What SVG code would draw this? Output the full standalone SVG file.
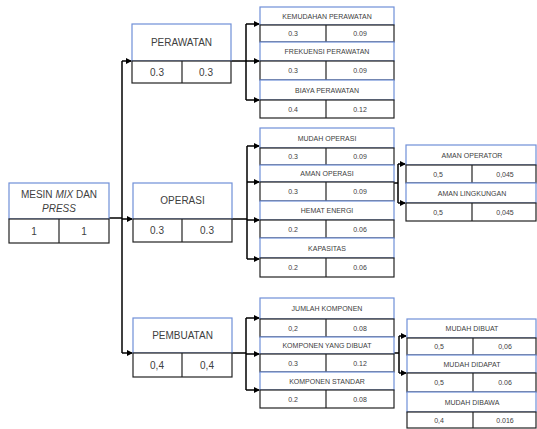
<svg xmlns="http://www.w3.org/2000/svg" width="537" height="429" viewBox="0 0 537 429">
<style>
text{font-family:"Liberation Sans",Arial,sans-serif;fill:#404040;text-anchor:middle}
.h{fill:#fff;stroke:#6f8fd8;stroke-width:1.2}
.v{fill:#fff;stroke:#222;stroke-width:1.2}
.d{stroke:#222;stroke-width:1.2}
.s{font-size:7px}
.b{font-size:10px}
.c{fill:none;stroke:#000;stroke-width:1.5}
</style>
<defs>
<marker id="a" markerWidth="6" markerHeight="6" refX="5" refY="3" orient="auto" markerUnits="userSpaceOnUse">
<path d="M0,0 L6,3 L0,6 Z" fill="#000"/>
</marker>
</defs>
<g id="connectors">
<path class="c" d="M109,218 H122"/>
<path class="c" d="M122,61 V353"/>
<path class="c" d="M122,61 H131" marker-end="url(#a)"/>
<path class="c" d="M122,219 H132" marker-end="url(#a)"/>
<path class="c" d="M122,353 H132" marker-end="url(#a)"/>
<path class="c" d="M231,61 H246 M246,24 V100"/>
<path class="c" d="M246,24 H259" marker-end="url(#a)"/>
<path class="c" d="M246,61 H259" marker-end="url(#a)"/>
<path class="c" d="M246,100 H259" marker-end="url(#a)"/>
<path class="c" d="M232,219 H247 M247,146 V259"/>
<path class="c" d="M247,146 H259" marker-end="url(#a)"/>
<path class="c" d="M247,182 H259" marker-end="url(#a)"/>
<path class="c" d="M247,220 H259" marker-end="url(#a)"/>
<path class="c" d="M247,259 H259" marker-end="url(#a)"/>
<path class="c" d="M232,353 H246 M246,318 V390"/>
<path class="c" d="M246,318 H259" marker-end="url(#a)"/>
<path class="c" d="M246,354 H259" marker-end="url(#a)"/>
<path class="c" d="M246,390 H259" marker-end="url(#a)"/>
<path class="c" d="M394,183 H398 M398,164 V203"/>
<path class="c" d="M398,164 H405" marker-end="url(#a)"/>
<path class="c" d="M398,203 H405" marker-end="url(#a)"/>
<path class="c" d="M394,353 H399 M399,336 V373"/>
<path class="c" d="M399,336 H406" marker-end="url(#a)"/>
<path class="c" d="M399,373 H406" marker-end="url(#a)"/>
</g>
<g id="main">
<rect class="h" x="9" y="183" width="100" height="36"/>
<rect class="v" x="9" y="219" width="100" height="24"/>
<line class="d" x1="59" y1="219" x2="59" y2="243"/>
<text class="b" x="59" y="198">MESIN <tspan font-style="italic">MIX</tspan> DAN</text>
<text class="b" x="59" y="212" font-style="italic">PRESS</text>
<text class="b" x="34" y="235">1</text>
<text class="b" x="84" y="235">1</text>
</g>
<g id="perawatan">
<rect class="h" x="132" y="24" width="99" height="37"/>
<rect class="v" x="132" y="61" width="99" height="22"/>
<line class="d" x1="182" y1="61" x2="182" y2="83"/>
<text class="b" x="181.5" y="46">PERAWATAN</text>
<text class="b" x="157" y="76">0.3</text>
<text class="b" x="206" y="76">0.3</text>
</g>
<g id="operasi">
<rect class="h" x="133" y="183" width="99" height="36"/>
<rect class="v" x="133" y="219" width="99" height="23"/>
<line class="d" x1="182" y1="219" x2="182" y2="242"/>
<text class="b" x="182.5" y="204">OPERASI</text>
<text class="b" x="157" y="234">0.3</text>
<text class="b" x="207" y="234">0.3</text>
</g>
<g id="pembuatan">
<rect class="h" x="133" y="318" width="99" height="35"/>
<rect class="v" x="133" y="353" width="99" height="24"/>
<line class="d" x1="182" y1="353" x2="182" y2="377"/>
<text class="b" x="182.5" y="339">PEMBUATAN</text>
<text class="b" x="157" y="369">0,4</text>
<text class="b" x="207" y="369">0,4</text>
</g>
<g id="kemudahan">
<rect class="h" x="260" y="7" width="134" height="18"/>
<rect class="v" x="260" y="25" width="134" height="17"/>
<line class="d" x1="326" y1="25" x2="326" y2="42"/>
<text class="s" x="327" y="19">KEMUDAHAN PERAWATAN</text>
<text class="s" x="293" y="36">0.3</text>
<text class="s" x="360" y="36">0.09</text>
</g>
<g id="frekuensi">
<rect class="h" x="260" y="42" width="134" height="19"/>
<rect class="v" x="260" y="61" width="134" height="19"/>
<line class="d" x1="326" y1="61" x2="326" y2="80"/>
<text class="s" x="327" y="54">FREKUENSI PERAWATAN</text>
<text class="s" x="293" y="73">0.3</text>
<text class="s" x="360" y="73">0.09</text>
</g>
<g id="biaya">
<rect class="h" x="260" y="80" width="134" height="20"/>
<rect class="v" x="260" y="100" width="134" height="18"/>
<line class="d" x1="326" y1="100" x2="326" y2="118"/>
<text class="s" x="327" y="93">BIAYA PERAWATAN</text>
<text class="s" x="293" y="112">0.4</text>
<text class="s" x="360" y="112">0.12</text>
</g>
<g id="mudah-operasi">
<rect class="h" x="260" y="128" width="134" height="20"/>
<rect class="v" x="260" y="148" width="134" height="17"/>
<line class="d" x1="326" y1="148" x2="326" y2="165"/>
<text class="s" x="327" y="141">MUDAH OPERASI</text>
<text class="s" x="293" y="159">0.3</text>
<text class="s" x="360" y="159">0.09</text>
</g>
<g id="aman-operasi">
<rect class="h" x="260" y="165" width="134" height="17"/>
<rect class="v" x="260" y="182" width="134" height="19"/>
<line class="d" x1="326" y1="182" x2="326" y2="201"/>
<text class="s" x="327" y="176">AMAN OPERASI</text>
<text class="s" x="293" y="194">0.3</text>
<text class="s" x="360" y="194">0.09</text>
</g>
<g id="hemat-energi">
<rect class="h" x="260" y="201" width="134" height="19"/>
<rect class="v" x="260" y="220" width="134" height="18"/>
<line class="d" x1="326" y1="220" x2="326" y2="238"/>
<text class="s" x="327" y="213">HEMAT ENERGI</text>
<text class="s" x="293" y="232">0.2</text>
<text class="s" x="360" y="232">0.06</text>
</g>
<g id="kapasitas">
<rect class="h" x="260" y="238" width="134" height="20"/>
<rect class="v" x="260" y="258" width="134" height="19"/>
<line class="d" x1="326" y1="258" x2="326" y2="277"/>
<text class="s" x="327" y="251">KAPASITAS</text>
<text class="s" x="293" y="270">0.2</text>
<text class="s" x="360" y="270">0.06</text>
</g>
<g id="jumlah-komponen">
<rect class="h" x="260" y="298" width="134" height="21"/>
<rect class="v" x="260" y="319" width="134" height="18"/>
<line class="d" x1="326" y1="319" x2="326" y2="337"/>
<text class="s" x="327" y="311">JUMLAH KOMPONEN</text>
<text class="s" x="293" y="331">0,2</text>
<text class="s" x="360" y="331">0.08</text>
</g>
<g id="komponen-dibuat">
<rect class="h" x="260" y="337" width="134" height="17"/>
<rect class="v" x="260" y="354" width="134" height="18"/>
<line class="d" x1="326" y1="354" x2="326" y2="372"/>
<text class="s" x="327" y="348">KOMPONEN YANG DIBUAT</text>
<text class="s" x="293" y="366">0.3</text>
<text class="s" x="360" y="366">0.12</text>
</g>
<g id="komponen-standar">
<rect class="h" x="260" y="372" width="134" height="18"/>
<rect class="v" x="260" y="390" width="134" height="18"/>
<line class="d" x1="326" y1="390" x2="326" y2="408"/>
<text class="s" x="327" y="384">KOMPONEN STANDAR</text>
<text class="s" x="293" y="402">0.2</text>
<text class="s" x="360" y="402">0.08</text>
</g>
<g id="aman-operator">
<rect class="h" x="406" y="145" width="130" height="20"/>
<rect class="v" x="406" y="165" width="130" height="18"/>
<line class="d" x1="472" y1="165" x2="472" y2="183"/>
<text class="s" x="472" y="158">AMAN OPERATOR</text>
<text class="s" x="438" y="177">0,5</text>
<text class="s" x="505" y="177">0,045</text>
</g>
<g id="aman-lingkungan">
<rect class="h" x="406" y="183" width="130" height="20"/>
<rect class="v" x="406" y="203" width="130" height="18"/>
<line class="d" x1="472" y1="203" x2="472" y2="221"/>
<text class="s" x="472" y="196">AMAN LINGKUNGAN</text>
<text class="s" x="438" y="215">0,5</text>
<text class="s" x="505" y="215">0,045</text>
</g>
<g id="mudah-dibuat">
<rect class="h" x="407" y="319" width="129" height="19"/>
<rect class="v" x="407" y="338" width="129" height="17"/>
<line class="d" x1="473" y1="338" x2="473" y2="355"/>
<text class="s" x="472" y="331">MUDAH DIBUAT</text>
<text class="s" x="439" y="349">0,5</text>
<text class="s" x="505" y="349">0,06</text>
</g>
<g id="mudah-didapat">
<rect class="h" x="407" y="355" width="129" height="18"/>
<rect class="v" x="407" y="373" width="129" height="19"/>
<line class="d" x1="473" y1="373" x2="473" y2="392"/>
<text class="s" x="472" y="367">MUDAH DIDAPAT</text>
<text class="s" x="439" y="385">0,5</text>
<text class="s" x="505" y="385">0.06</text>
</g>
<g id="mudah-dibawa">
<rect class="h" x="407" y="392" width="129" height="20"/>
<rect class="v" x="407" y="412" width="129" height="16"/>
<line class="d" x1="473" y1="412" x2="473" y2="428"/>
<text class="s" x="472" y="405">MUDAH DIBAWA</text>
<text class="s" x="439" y="423">0,4</text>
<text class="s" x="505" y="423">0.016</text>
</g>
</svg>
